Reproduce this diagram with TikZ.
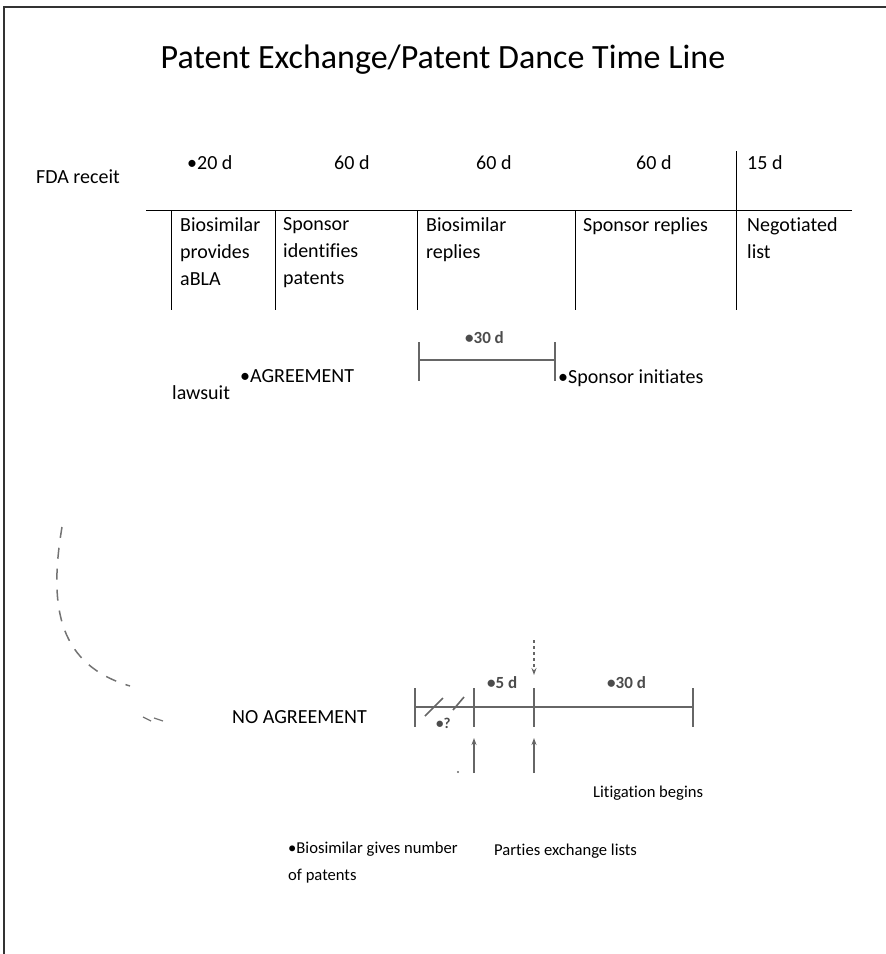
\documentclass[tikz,border=0pt]{standalone}
\usepackage{fontspec}
\setmainfont{Carlito}[Ligatures={NoCommon}, RawFeature={-clig}]
\usetikzlibrary{arrows.meta}

\tikzset{
  lbl/.style={anchor=west, inner sep=0pt, font=\fontsize{20}{27}\selectfont},
  small/.style={anchor=west, inner sep=0pt, font=\fontsize{16.6}{27}\selectfont},
  cell/.style={anchor=north west, inner sep=0pt, align=left, font=\fontsize{20}{27}\selectfont},
  grid/.style={draw=black, line width=0.9pt},
  scan/.style={draw=black!60, line width=1.6pt},
  scantxt/.style={anchor=west, inner sep=0pt, text=black!70, font=\fontsize{17}{20}\selectfont\bfseries},
}

\begin{document}
\begin{tikzpicture}[x=1pt, y=-1pt]
    \useasboundingbox (0,0) rectangle (886,954);
    % frame
    \draw[line width=2pt, black!80] (4,954) -- (4,7) -- (886,7);
    \node[font=\fontsize{34}{40}\selectfont] (title) at (443,60) {Patent Exchange/Patent Dance Time Line};

    % top time line
    \node[lbl] (fda) at (36,177) {FDA receit};
    \node[lbl] (d20) at (187,163) {\textbullet 20 d};
    \node[lbl] (d60a) at (334,163) {60 d};
    \node[lbl] (d60b) at (476,163) {60 d};
    \node[lbl] (d60c) at (636,163) {60 d};
    \node[lbl] (d15) at (747,163) {15 d};
    \draw[grid] (146,210) -- (852,210);
    \foreach \x in {171,275,417,575}
        \draw[grid] (\x,210) -- (\x,310);
    \draw[grid] (736,151) -- (736,310);
    \node[cell] (abla) at (180,217) {Biosimilar\\provides\\aBLA};
    \node[cell] (ident) at (283,217) {Sponsor\\identifies\\patents};
    \node[cell] (brep) at (426,217) {Biosimilar\\replies};
    \node[cell] (srep) at (583,217) {Sponsor replies};
    \node[cell] (neg) at (747,217) {Negotiated\\list};

    % agreement branch
    \draw[scan] (419,342) -- (419,381);
    \draw[scan] (555,342) -- (555,381);
    \draw[scan] (419,360) -- (555,360);
    \node[scantxt] (d30a) at (465,338) {\textbullet 30 d};
    \node[lbl] (agree) at (240,376) {\textbullet AGREEMENT};
    \node[lbl] (law) at (172,393) {lawsuit};
    \node[lbl] (init) at (558,378) {\textbullet Sponsor initiates};

    % dashed curve
    \draw[black!55, line width=1.5pt, dash pattern=on 11pt off 10pt]
        (62,527) .. controls (48,610) and (60,665) .. (130,686);
    \draw[black!55, line width=1.2pt] (143,717) -- (151,721) (154,718) -- (163,721);

    % no agreement branch
    \node[lbl] (noagree) at (232,717) {NO AGREEMENT};
    \foreach \x/\n in {415/t0,474/t1,534/t2,693/t3}{
        \draw[scan] (\x,688) -- (\x,727);
        \coordinate (\n) at (\x,738);
    }
    \draw[scan] (415,707) -- (693,707);
    \draw[scan] (425,716) -- (443,698);
    \draw[scan] (453,710) -- (464,697);
    \coordinate (top) at (534,640);
    \coordinate (b1) at (474,773);
    \coordinate (b2) at (534,773);
    \draw[scan, line width=1.3pt, dashed, -{Stealth[length=7pt,width=5pt]}] (top) -- (534,675);
    \draw[scan, line width=1.3pt, -{Stealth[length=7pt,width=5pt]}] (b1) -- (t1);
    \draw[scan, line width=1.3pt, -{Stealth[length=7pt,width=5pt]}] (b2) -- (t2);
    \fill[black!60] (458,772) circle (1.2pt);
    \node[scantxt, font=\fontsize{15}{18}\selectfont\bfseries] (q) at (436,723) {\textbullet ?};
    \node[scantxt] (d5) at (487,683) {\textbullet 5 d};
    \node[scantxt] (d30b) at (607,683) {\textbullet 30 d};
    \node[small] (lit) at (593,793) {Litigation begins};
    \node[small, anchor=north west, align=left] (gives) at (288,842) {\textbullet Biosimilar gives number\\of patents};
    \node[small] (exch) at (494,851) {Parties exchange lists};
\end{tikzpicture}
\end{document}
